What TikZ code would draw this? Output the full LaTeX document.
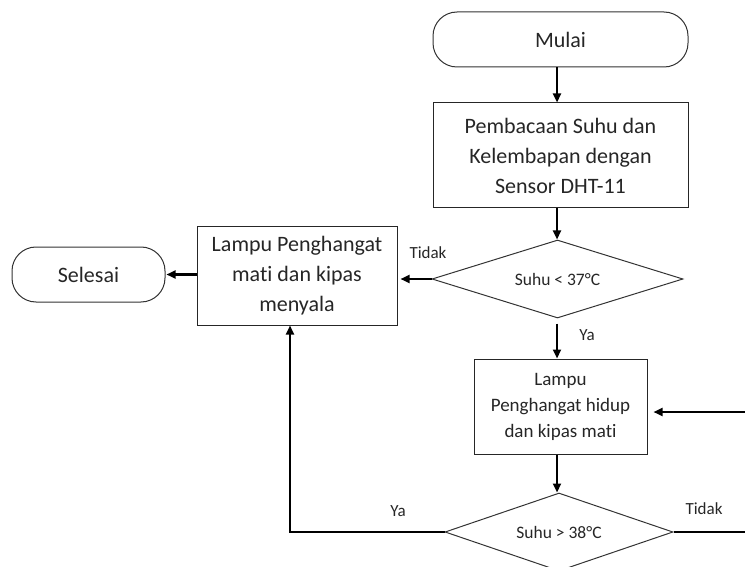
\documentclass[tikz,border=0pt]{standalone}
\usepackage{fontspec}
\setmainfont{Carlito}[Ligatures=NoCommon]
\usetikzlibrary{shapes.geometric,arrows.meta}
\begin{document}
\begin{tikzpicture}[x=1pt,y=-1pt,
  every node/.style={text=black!85},
  term/.style={draw=black!80,line width=1pt,rounded corners=24pt,inner sep=0pt,font=\fontsize{22}{27}\selectfont},
  proc/.style={draw=black!85,line width=1pt,inner sep=0pt,align=center},
  deci/.style={draw=black!80,line width=1pt,diamond,inner sep=0pt,font=\fontsize{17.5}{21}\selectfont},
  lbl/.style={font=\fontsize{17}{20}\selectfont},
  arr/.style={line width=2.2pt,-{Triangle[length=9pt,width=8pt]}},
  ln/.style={line width=2.2pt}]
\useasboundingbox (0,0) rectangle (745,567);
\clip (0,0) rectangle (745,567);
\node[term,minimum width=255pt,minimum height=55pt] (mulai) at (560.5,39.5) {Mulai};
\node[proc,minimum width=255pt,minimum height=105pt,font=\fontsize{22}{30}\selectfont] (baca) at (560.5,155.5) {Pembacaan Suhu dan\\Kelembapan dengan\\Sensor DHT-11};
\node[deci,shape aspect=3.2,minimum width=251pt,minimum height=78pt] (d1) at (557.5,279) {Suhu < 37°C};
\node[proc,minimum width=200pt,minimum height=98pt,font=\fontsize{22}{30}\selectfont] (mati) at (297,276) {Lampu Penghangat\\mati dan kipas\\menyala};
\node[term,minimum width=153pt,minimum height=55pt] (selesai) at (88.5,274.5) {Selesai};
\node[proc,minimum width=173pt,minimum height=95pt,font=\fontsize{19}{26}\selectfont] (hidup) at (560.5,406.5) {Lampu\\Penghangat hidup\\dan kipas mati};
\node[deci,shape aspect=2.92,minimum width=228pt,minimum height=78pt] (d2) at (559,532) {Suhu > 38°C};
\coordinate (vx) at (557,0);
\coordinate (lx) at (290,0);
\coordinate (rin) at (752,412);
\coordinate (rout) at (752,532);
\draw[arr] (mulai.south -| vx) -- (baca.north -| vx);
\draw[arr] (baca.south -| vx) -- (d1.north -| vx);
\draw[arr,shorten >=3pt] (d1.west) -- (d1.west -| mati.east);
\draw[arr,shorten >=1pt] (mati.west |- selesai.east) -- (selesai.east);
\draw[arr,shorten <=5pt] (d1.south -| vx) -- (hidup.north -| vx);
\draw[arr] (hidup.south -| vx) -- (d2.north -| vx);
\draw[arr] (d2.west) -- (d2.west -| lx) -- (mati.south -| lx);
\draw[ln] (d2.east) -- (rout) -- (rin);
\draw[arr,shorten >=6pt] (rin) -- (rin -| hidup.east);
\node[lbl] (t1) at (428,253) {Tidak};
\node[lbl] (y1) at (587,335) {Ya};
\node[lbl] (y2) at (398,511) {Ya};
\node[lbl] (t2) at (704,509) {Tidak};
\end{tikzpicture}
\end{document}
